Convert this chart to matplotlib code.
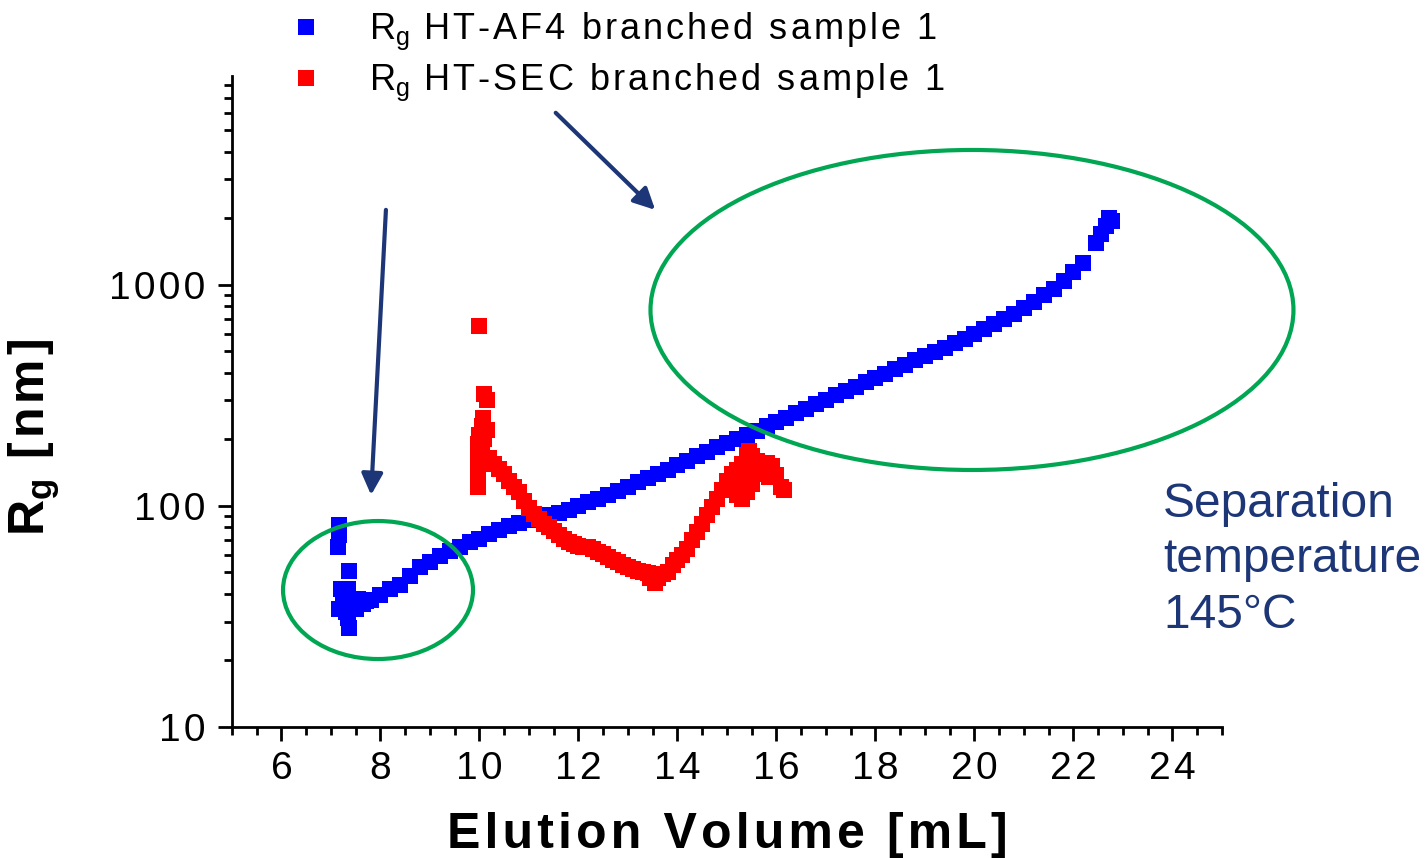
import numpy as np
import matplotlib.pyplot as plt
from matplotlib.patches import Ellipse
from matplotlib.lines import Line2D

plt.rcParams['font.family'] = ['Liberation Sans', 'DejaVu Sans']
plt.rcParams['mathtext.fontset'] = 'custom'
plt.rcParams['mathtext.rm'] = 'Liberation Sans'
plt.rcParams['mathtext.it'] = 'Liberation Sans:italic'
plt.rcParams['mathtext.bf'] = 'Liberation Sans:bold'

# HT-AF4, branched sample 1 (elution volume mL, Rg nm)
af4_x = [7.17, 7.17, 7.15, 7.37, 7.20, 7.35, 7.17, 7.30, 7.35, 7.37, 7.25, 7.45,
         7.55, 7.50, 7.65, 7.70,
         7.8, 8.0, 8.2, 8.4, 8.6, 8.8, 9.0, 9.2, 9.4, 9.6, 9.8, 10.0, 10.2, 10.4,
         10.6, 10.8, 11.0, 11.2, 11.4, 11.6, 11.8, 12.0, 12.2, 12.4, 12.6, 12.8,
         13.0, 13.2, 13.4, 13.6, 13.8, 14.0, 14.2, 14.4, 14.6, 14.8, 15.0, 15.2,
         15.4, 15.6, 15.8, 16.0, 16.2, 16.4, 16.6, 16.8, 17.0, 17.2, 17.4, 17.6,
         17.8, 18.0, 18.2, 18.4, 18.6, 18.8, 19.0, 19.2, 19.4, 19.6, 19.8, 20.0,
         20.2, 20.4, 20.6, 20.8, 21.0, 21.2, 21.4, 21.6, 21.8, 22.0, 22.2,
         22.45, 22.55, 22.65, 22.72, 22.78]
af4_rg = [82, 74, 65, 51, 42, 42, 34, 33, 31, 28, 36, 35,
          38, 34, 36, 37,
          37.5, 39.5, 42, 44, 48, 53, 56, 59.5, 62.5, 65.5, 68.5, 71, 75, 78,
          81, 84, 86, 88, 90.5, 93, 96, 99.5, 104, 108, 112, 117,
          122, 128, 134, 140, 146, 153, 160, 168, 176, 184, 192, 201,
          210, 219, 229, 239, 250, 262, 275, 288, 302, 316, 330, 346,
          362, 379, 397, 416, 435, 455, 476, 498, 520, 543, 568, 598,
          630, 662, 700, 740, 785, 835, 895, 960, 1040, 1140, 1250,
          1550, 1700, 1850, 2000, 1950]

# HT-SEC, branched sample 1
sec_x = [9.99, 10.09, 10.15, 10.08, 10.05, 10.00, 9.98, 9.98, 9.98, 9.98, 9.97,
         10.05, 10.10, 10.15, 10.10, 10.20,
         10.3, 10.4, 10.5, 10.6, 10.7, 10.8, 10.9, 11.0, 11.1, 11.2, 11.3, 11.4,
         11.5, 11.6, 11.7, 11.8, 11.9, 12.0, 12.1, 12.2, 12.3, 12.4, 12.5, 12.6,
         12.7, 12.8, 12.9, 13.0, 13.1, 13.2, 13.3, 13.4, 13.45, 13.5, 13.55, 13.6,
         13.7, 13.8, 13.9, 14.0, 14.1, 14.2, 14.3, 14.4, 14.5, 14.6, 14.7, 14.8,
         14.9, 15.0, 15.1, 15.2, 15.3, 15.4, 15.45, 15.5, 15.6, 15.7, 15.8, 15.9,
         16.0, 16.1, 16.15,
         15.0, 15.1, 15.15, 15.2, 15.25, 15.3, 15.35, 15.4, 15.5, 15.55, 15.6,
         15.65, 15.75, 15.85]
sec_rg = [650, 320, 300, 250, 230, 210, 190, 170, 150, 135, 122,
          180, 200, 220, 160, 165,
          155, 147, 140, 130, 122, 115, 105, 98, 92, 87, 83, 80,
          77, 74, 71, 69, 67.5, 66, 65.5, 65, 64, 62, 60.5, 59,
          57, 55.5, 54, 53, 52, 51, 50.5, 49.5, 47, 48, 45, 47,
          49, 50.5, 54, 57, 60, 64, 70, 76, 83, 91, 99, 108,
          118, 130, 140, 146, 155, 170, 178, 168, 160, 155, 157, 152,
          138, 122, 118,
          120, 122, 130, 112, 125, 108, 135, 115, 125, 140, 140,
          145, 140, 135]

x_ticks = [6, 8, 10, 12, 14, 16, 18, 20, 22, 24]
y_ticks = [10, 100, 1000]

navy = '#1c3677'
green = '#00a651'


def spread(s):
    # hair spaces between letters for the wide-tracked lettering
    return '\u200a'.join(s)


fig = plt.figure(figsize=(14.25, 8.58), dpi=100)
ax = fig.add_axes([0.1628, 0.1527, 0.6947, 0.7587])

ax.plot(af4_x, af4_rg, 's', color='#0000ff', ms=11, mew=0, zorder=3)
ax.plot(sec_x, sec_rg, 's', color='#ff0000', ms=11, mew=0, zorder=3)

ax.set_yscale('log')
ax.set_xlim(5, 25)
ax.set_ylim(10, 8800)
ax.set_xticks(x_ticks)
ax.set_xticklabels([spread(str(v)) for v in x_ticks])
ax.set_xticks(np.arange(5, 25.01, 0.5), minor=True)
ax.set_yticks(y_ticks)
ax.set_yticklabels([spread(str(v)) for v in y_ticks])
ax.tick_params(which='major', length=10, width=2, labelsize=28)
ax.tick_params(axis='y', which='major', pad=9)
ax.tick_params(axis='x', which='major', pad=7)
ax.tick_params(which='minor', length=6, width=2)
ax.tick_params(axis='y', which='minor', labelleft=False)

for side in ['top', 'right']:
    ax.spines[side].set_visible(False)
for side in ['left', 'bottom']:
    ax.spines[side].set_linewidth(2)

ax.set_xlabel(spread('Elution Volume [mL]'), fontsize=36, fontweight='bold', labelpad=18)
ax.set_ylabel(r'$\mathbf{R_g}$' + spread(' [nm]'), fontsize=36, fontweight='bold')
ax.yaxis.set_label_coords(-0.172, 0.445)

# highlighted regions
ax.add_patch(Ellipse((0.1475, 0.2104), 0.1919, 0.212, transform=ax.transAxes,
                     fill=False, ec=green, lw=3, clip_on=False, zorder=4))
ax.add_patch(Ellipse((0.7475, 0.6406), 0.6495, 0.4916, transform=ax.transAxes,
                     fill=False, ec=green, lw=3, clip_on=False, zorder=4))

arrow = dict(arrowstyle='-|>', color=navy, lw=3, mutation_scale=32, shrinkA=0, shrinkB=0)
ax.annotate('', xy=(7.81, 112), xytext=(8.11, 2183), arrowprops=arrow, annotation_clip=False)
ax.annotate('', xy=(13.55, 2183), xytext=(11.54, 6000), arrowprops=arrow, annotation_clip=False)

fig.text(1163 / 1425, 1 - 482 / 858, 'Separation\ntemperature\n145°C', color=navy,
         fontsize=34.5, ha='left', va='top', linespacing=1.3)

handles = [Line2D([], [], ls='', marker='s', color='#0000ff', ms=11, mew=0),
           Line2D([], [], ls='', marker='s', color='#ff0000', ms=11, mew=0)]
labels = [r'R$_\mathrm{g}$' + spread(' HT-AF4 branched sample 1'),
          r'R$_\mathrm{g}$' + spread(' HT-SEC branched sample 1')]
ax.legend(handles, labels, loc='upper left', bbox_to_anchor=(284 / 1425, 1 - 11 / 858),
          bbox_transform=fig.transFigure, frameon=False, fontsize=26,
          handlelength=1.2, handletextpad=1.15, borderpad=0, borderaxespad=0,
          labelspacing=0.26)

fig.savefig('out.png', dpi=100)
